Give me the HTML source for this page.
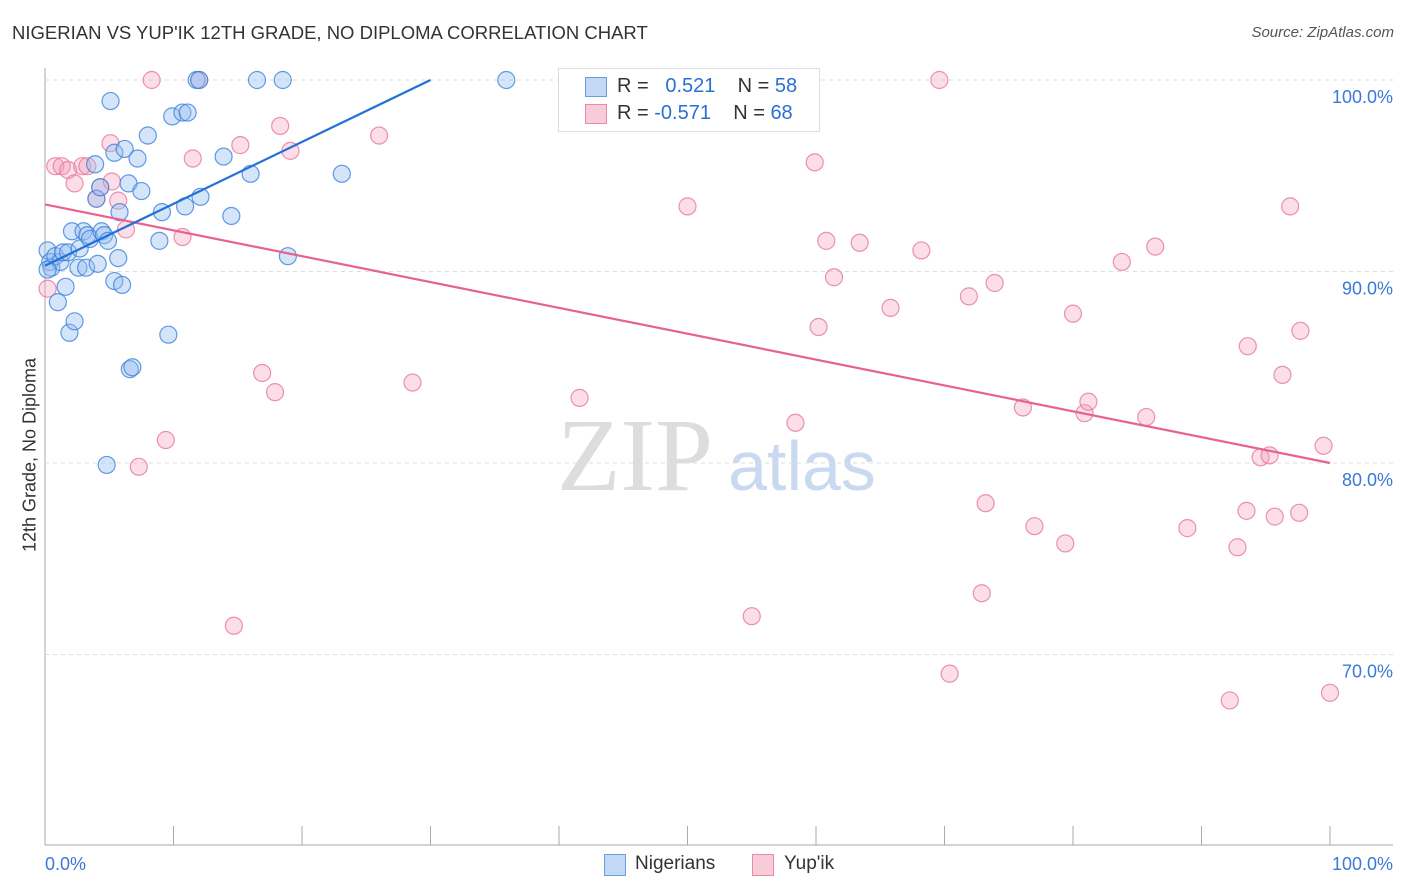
<!DOCTYPE html>
<html><head><meta charset="utf-8"><style>
body{margin:0;background:#fff;font-family:"Liberation Sans",sans-serif;}
#wrap{position:relative;width:1406px;height:892px;overflow:hidden;}
.t{position:absolute;white-space:nowrap;}
</style></head><body>
<div id="wrap">
<div class="t" style="left:12px;top:22px;font-size:18.5px;color:#333;">NIGERIAN VS YUP'IK 12TH GRADE, NO DIPLOMA CORRELATION CHART</div>
<div class="t" style="right:12px;top:24px;font-size:15px;color:#555;font-style:italic;">Source: ZipAtlas.com</div>
<svg id="plot" width="1406" height="892" style="position:absolute;left:0;top:0">
<text x="635" y="490" font-family="Liberation Serif" font-size="104" fill="#ddd" text-anchor="middle">ZIP</text>
<text x="802" y="490" font-family="Liberation Sans" font-size="70" fill="#c9d9f0" text-anchor="middle">atlas</text>
</svg>
<div class="t" style="left:18px;top:455px;transform:translate(-50%,-50%) rotate(-90deg);transform-origin:center;font-size:18px;color:#333;margin-left:12px;">12th Grade, No Diploma</div>
<div style="position:absolute;left:558px;top:68px;width:260px;height:62px;border:1px solid #ddd;background:#fff;">
 <div style="position:absolute;left:26px;top:8px;width:20px;height:18px;background:#c3d8f5;border:1px solid #6a9ee0;"></div>
 <div class="t" style="left:58px;top:6px;font-size:20px;color:#333;">R = &nbsp;<span style="color:#2a6fd6">&nbsp;0.521</span>&nbsp;&nbsp;&nbsp; N = <span style="color:#2a6fd6">58</span></div>
 <div style="position:absolute;left:26px;top:35px;width:20px;height:18px;background:#f8cbd8;border:1px solid #e98aa6;"></div>
 <div class="t" style="left:58px;top:33px;font-size:20px;color:#333;">R = <span style="color:#2a6fd6">-0.571</span>&nbsp;&nbsp;&nbsp; N = <span style="color:#2a6fd6">68</span></div>
</div>
<div style="position:absolute;left:604px;top:854px;width:20px;height:20px;background:#c3d8f5;border:1px solid #6a9ee0;"></div>
<div class="t" style="left:635px;top:853px;font-size:19px;color:#333;">Nigerians</div>
<div style="position:absolute;left:752px;top:854px;width:20px;height:20px;background:#f8cbd8;border:1px solid #e98aa6;"></div>
<div class="t" style="left:784px;top:853px;font-size:19px;color:#333;">Yup'ik</div>
</div>
<script>
const yTicks=[100,90,80,70];
const xTickLabels=["0.0%","100.0%"];
const blueX=[0.2,0.4,0.5,0.8,1.0,1.2,1.4,1.6,1.8,1.9,2.1,2.3,2.6,2.7,3.0,3.2,3.3,3.5,3.9,4.0,4.1,4.3,4.4,4.6,4.9,5.1,5.4,5.4,5.7,5.8,6.0,6.2,6.5,6.6,6.8,7.2,7.5,8.0,8.9,9.1,9.6,9.9,10.7,10.9,11.1,11.8,12.0,12.1,13.9,14.5,16.0,16.5,18.5,18.9,23.1,35.9,4.8,0.2];
const blueY=[91.1,90.5,90.2,90.8,88.4,90.5,91.0,89.2,91.0,86.8,92.1,87.4,90.2,91.2,92.1,90.2,91.9,91.7,95.6,93.8,90.4,94.4,92.1,91.9,91.6,98.9,96.2,89.5,90.7,93.1,89.3,96.4,94.6,84.9,85.0,95.9,94.2,97.1,91.6,93.1,86.7,98.1,98.3,93.4,98.3,100,100,93.9,96.0,92.9,95.1,100,100,90.8,95.1,100,79.9,90.1];
const pinkX=[0.2,0.8,1.3,1.8,2.3,2.9,3.3,4.0,4.3,5.1,5.2,5.7,6.3,7.3,8.3,9.4,10.7,11.5,12.0,14.7,15.2,16.9,17.9,18.3,19.1,26.0,28.6,41.6,50.0,55.0,58.4,59.9,60.2,60.8,61.4,63.4,65.8,68.2,69.6,70.4,71.9,72.9,73.2,73.9,76.1,77.0,79.4,80.0,80.9,81.2,83.8,85.7,86.4,88.9,92.2,92.8,93.5,93.6,94.6,95.3,95.7,96.3,96.9,97.6,97.7,99.5,100];
const pinkY=[89.1,95.5,95.5,95.3,94.6,95.5,95.5,93.8,94.4,96.7,94.7,93.7,92.2,79.8,100,81.2,91.8,95.9,100,71.5,96.6,84.7,83.7,97.6,96.3,97.1,84.2,83.4,93.4,72.0,82.1,95.7,87.1,91.6,89.7,91.5,88.1,91.1,100,69.0,88.7,73.2,77.9,89.4,82.9,76.7,75.8,87.8,82.6,83.2,90.5,82.4,91.3,76.6,67.6,75.6,77.5,86.1,80.3,80.4,77.2,84.6,93.4,77.4,86.9,80.9,68.0];
const blueTrendX=[0,30];const blueTrendY=[90.3,100];
const pinkTrendX=[0,100];const pinkTrendY=[93.5,80.0];
const X0=45,X1=1330,YT=80,YS=19.15;
const sx=v=>X0+(X1-X0)*v/100;
const sy=v=>YT+(100-v)*YS;
const NS="http://www.w3.org/2000/svg";
const svg=document.getElementById('plot');
function mk(tag,attrs){const e=document.createElementNS(NS,tag);for(const k in attrs)e.setAttribute(k,attrs[k]);svg.appendChild(e);return e;}
let a=mk('line',{x1:45,y1:68,x2:45,y2:845,stroke:'#aaa','stroke-width':1});


a=mk('line',{x1:45,y1:845,x2:1393,y2:845,stroke:'#aaa','stroke-width':1});


for(let i=0;i<=10;i++){const x=sx(i*10);const tk=mk('line',{x1:x,y1:826,x2:x,y2:845,stroke:'#aaa'});

}
yTicks.forEach(v=>{const g=mk('line',{x1:45,y1:sy(v),x2:1393,y2:sy(v),stroke:'#ddd','stroke-dasharray':'4,4'});


const t=mk('text',{x:1393,y:sy(v)+23,'text-anchor':'end','font-size':18,fill:'#3b78d8','font-family':'Liberation Sans'});t.textContent=v.toFixed(1)+'%';

});
[[45,'start'],[1393,'end']].forEach((p,i)=>{const t=mk('text',{x:p[0],y:870,'text-anchor':p[1],'font-size':18,fill:'#3b78d8','font-family':'Liberation Sans'});t.textContent=xTickLabels[i];

});
pinkX.forEach((x,i)=>{const c=mk('circle',{cx:sx(x),cy:sy(pinkY[i]),r:8.5,fill:'rgba(244,160,185,0.35)',stroke:'rgba(230,120,155,0.8)','stroke-width':1.2});

});
blueX.forEach((x,i)=>{const c=mk('circle',{cx:sx(x),cy:sy(blueY[i]),r:8.5,fill:'rgba(150,190,240,0.4)',stroke:'rgba(60,130,220,0.8)','stroke-width':1.2});

});
let l=mk('line',{x1:sx(pinkTrendX[0]),y1:sy(pinkTrendY[0]),x2:sx(pinkTrendX[1]),y2:sy(pinkTrendY[1]),stroke:'#e8628f','stroke-width':2.2});


l=mk('line',{x1:sx(blueTrendX[0]),y1:sy(blueTrendY[0]),x2:sx(blueTrendX[1]),y2:sy(blueTrendY[1]),stroke:'#2270d8','stroke-width':2.2});


</script>
</body></html>
